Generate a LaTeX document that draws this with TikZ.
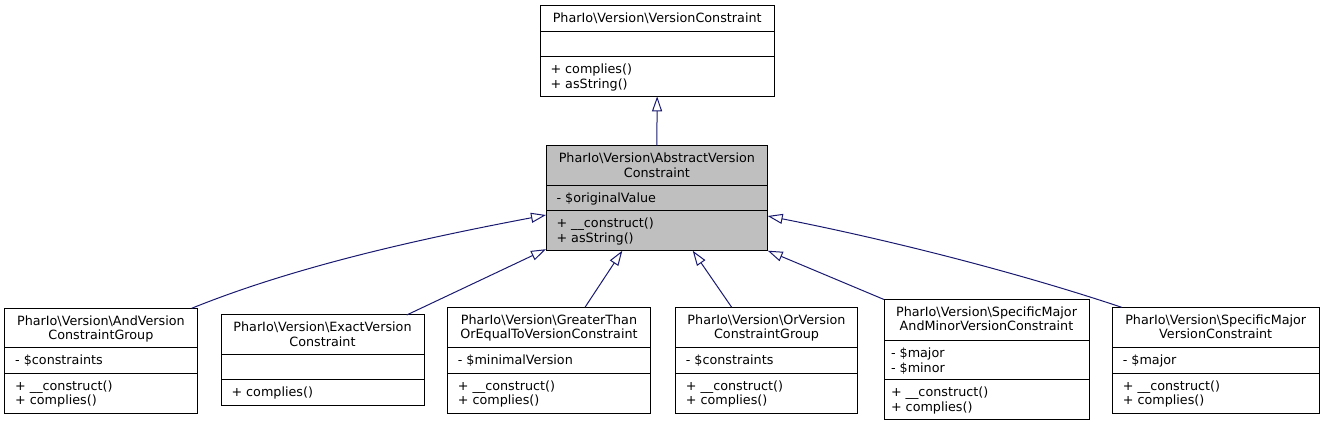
\documentclass[tikz,border=0pt]{standalone}
\usepackage{fontspec}
\setmainfont{DejaVu Sans}
\usetikzlibrary{arrows.meta,calc}
\definecolor{edgeblue}{RGB}{25,25,112}
\definecolor{grayfill}{RGB}{191,191,191}
\newcommand\bsl{\textbackslash}
\tikzset{
  cls/.style={draw=black, line width=1pt, fill=white, inner sep=0pt, outer sep=0pt},
  clsgray/.style={cls, fill=grayfill},
  sepline/.style={draw=black, line width=1pt},
  txt/.style={inner sep=0pt, outer sep=0pt, font=\fontsize{12.75}{14.7}\selectfont},
  inh/.style={draw=edgeblue, line width=1pt, -{Triangle[open, length=15pt, width=10pt]}}
}
\newcommand\cbox[6]{\node[#6, minimum width={#4-#2}, minimum height={#5-#3}, anchor=north west] (#1) at (#2,#3) {};}
\newcommand\hsep[3]{\draw[sepline] (#1,#3) -- (#2,#3);}
\newcommand\ctext[4]{\node[txt, anchor=base] (#1) at (#2,#3) {#4};}
\newcommand\ltext[4]{\node[txt, anchor=base west] (#1) at (#2,#3) {#4};}
\begin{document}
\begin{tikzpicture}[x=1pt,y=-1pt]
\useasboundingbox (0,0) rectangle (1325,427);
% top class
\cbox{top}{540}{5.7}{774.3}{96.3}{cls}
\hsep{540}{774.3}{31.3}
\hsep{540}{774.3}{56.7}
\ctext{topT}{657.2}{22.5}{PharIo\bsl Version\bsl VersionConstraint}
\ltext{topM1}{550.5}{73.5}{+ complies()}
\ltext{topM2}{550.5}{88.2}{+ asString()}
% abstract
\cbox{abs}{546}{145.7}{767.7}{250.7}{clsgray}
\hsep{546}{767.7}{185.7}
\hsep{546}{767.7}{211}
\ctext{absT1}{656.9}{162.5}{PharIo\bsl Version\bsl AbstractVersion}
\ctext{absT2}{656.9}{177.2}{Constraint}
\ltext{absA1}{556.5}{202.5}{- \$originalValue}
\ltext{absM1}{556.5}{227.8}{+ \_\_construct()}
\ltext{absM2}{556.5}{242.5}{+ asString()}
% box 1
\cbox{b1}{4.7}{308.3}{197}{413.3}{cls}
\hsep{4.7}{197}{347.7}
\hsep{4.7}{197}{373.3}
\ctext{b1T1}{100.9}{325.1}{PharIo\bsl Version\bsl AndVersion}
\ctext{b1T2}{100.9}{339.8}{ConstraintGroup}
\ltext{b1A1}{15.2}{364.5}{- \$constraints}
\ltext{b1M1}{15.2}{390.1}{+ \_\_construct()}
\ltext{b1M2}{15.2}{404.8}{+ complies()}
% box 2
\cbox{b2}{221}{315}{424}{405.7}{cls}
\hsep{221}{424}{355}
\hsep{221}{424}{380}
\ctext{b2T1}{322.5}{331.8}{PharIo\bsl Version\bsl ExactVersion}
\ctext{b2T2}{322.5}{346.5}{Constraint}
\ltext{b2M1}{231.5}{396.8}{+ complies()}
% box 3
\cbox{b3}{447.3}{307.3}{650.7}{413.3}{cls}
\hsep{447.3}{650.7}{347.7}
\hsep{447.3}{650.7}{373.3}
\ctext{b3T1}{549}{324.1}{PharIo\bsl Version\bsl GreaterThan}
\ctext{b3T2}{549}{338.8}{OrEqualToVersionConstraint}
\ltext{b3A1}{457.8}{364.5}{- \$minimalVersion}
\ltext{b3M1}{457.8}{390.1}{+ \_\_construct()}
\ltext{b3M2}{457.8}{404.8}{+ complies()}
% box 4
\cbox{b4}{675.3}{307.3}{857.7}{413.3}{cls}
\hsep{675.3}{857.7}{347.7}
\hsep{675.3}{857.7}{373.3}
\ctext{b4T1}{766.5}{324.1}{PharIo\bsl Version\bsl OrVersion}
\ctext{b4T2}{766.5}{338.8}{ConstraintGroup}
\ltext{b4A1}{685.8}{364.5}{- \$constraints}
\ltext{b4M1}{685.8}{390.1}{+ \_\_construct()}
\ltext{b4M2}{685.8}{404.8}{+ complies()}
% box 5
\cbox{b5}{884}{299.5}{1089}{419.5}{cls}
\hsep{884}{1089}{340.7}
\hsep{884}{1089}{380}
\ctext{b5T1}{986.5}{316.3}{PharIo\bsl Version\bsl SpecificMajor}
\ctext{b5T2}{986.5}{331}{AndMinorVersionConstraint}
\ltext{b5A1}{891}{357.5}{- \$major}
\ltext{b5A2}{891}{372.2}{- \$minor}
\ltext{b5M1}{891}{396.8}{+ \_\_construct()}
\ltext{b5M2}{891}{411.5}{+ complies()}
% box 6
\cbox{b6}{1112.3}{307.3}{1319}{413.3}{cls}
\hsep{1112.3}{1319}{347.7}
\hsep{1112.3}{1319}{373.3}
\ctext{b6T1}{1215.7}{324.1}{PharIo\bsl Version\bsl SpecificMajor}
\ctext{b6T2}{1215.7}{338.8}{VersionConstraint}
\ltext{b6A1}{1122.8}{364.5}{- \$major}
\ltext{b6M1}{1122.8}{390.1}{+ \_\_construct()}
\ltext{b6M2}{1122.8}{404.8}{+ complies()}
% edges
\draw[inh] (abs.north) -- (top.south);
\draw[inh] ([xshift=187pt]b1.north west) .. controls (300,264.5) and (430,237) .. (abs.west |- 0,215);
\draw[inh] ([xshift=-17.3pt]b2.north east) -- ([yshift=1.5pt]abs.south west);
\draw[inh] ([xshift=137.7pt]b3.north west) -- (abs.south -| 622.3,0);
\draw[inh] ([xshift=56.4pt]b4.north west) -- (abs.south -| 692.7,0);
\draw[inh] (b5.north west) -- (abs.south east);
\draw[inh] ([xshift=9.4pt]b6.north west) .. controls (1010,270) and (880,238) .. (abs.east |- 0,216);
\end{tikzpicture}
\end{document}
